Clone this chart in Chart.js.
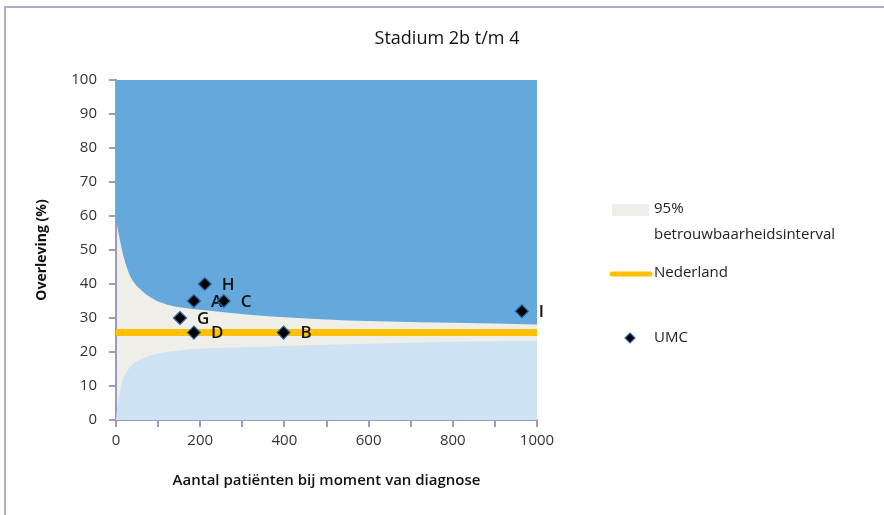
<!DOCTYPE html>
<html>
<head>
<meta charset="utf-8">
<script src="https://cdn.jsdelivr.net/npm/chart.js@4/dist/chart.umd.min.js"></script>
<style>
  body { margin: 0; background: #fff; }
  #wrap { width: 884px; height: 515px; }
</style>
</head>
<body>
<div id="wrap"><canvas id="funnel" width="884" height="515"></canvas></div>
<script>
// funnel data
const patients = [0, 3, 6, 10, 17, 33, 57, 90, 120, 160, 200, 280, 340, 400, 550, 650, 800, 1000];
const upperLimit = [59, 57, 55, 52.5, 48.5, 42.5, 38.5, 35.5, 34, 33, 32.4, 31.4, 30.7, 30.2, 29.3, 29.0, 28.6, 28.1];
const lowerLimit = [0, 3.5, 6, 8.5, 12, 15.5, 17.8, 19.2, 20.0, 20.6, 21.0, 21.3, 21.5, 21.8, 22.3, 22.6, 23.0, 23.3];

const nederlandX = [0, 1000];
const nederlandY = [25.7, 25.7];

const umcNames = ["A", "B", "C", "D", "G", "H", "I"];
const umcPatients = [185, 398, 256, 185, 152, 211, 964];
const umcSurvival = [35, 25.7, 35, 25.7, 30, 40, 32];

const xTicks = [0, 200, 400, 600, 800, 1000];

const axisColor = "#9d9abf";
const darkBlue = "#64a8dc";
const lightBlue = "#cde2f3";
const beige = "#f0eee8";
const orange = "#ffc000";

const toXY = (xs, ys) => xs.map((x, i) => ({x: x, y: ys[i]}));

// beige interval as plot background, frame, title, labels, legend
const extras = {
  id: "extras",
  beforeDraw(chart) {
    const ctx = chart.ctx;
    const a = chart.chartArea;
    ctx.save();
    ctx.fillStyle = beige;
    ctx.fillRect(a.left, a.top, a.right - a.left, a.bottom - a.top);
    ctx.strokeStyle = "#aeabcc";
    ctx.lineWidth = 2;
    ctx.beginPath();
    ctx.moveTo(5, 515);
    ctx.lineTo(5, 7);
    ctx.lineTo(884, 7);
    ctx.stroke();
    ctx.restore();
  },
  beforeDatasetDraw(chart, args) {
    if (args.index !== 4) return;
    const ctx = chart.ctx;
    const meta = chart.getDatasetMeta(4);
    ctx.save();
    ctx.font = "600 17px 'Open Sans'";
    ctx.fillStyle = "#111";
    ctx.textBaseline = "middle";
    meta.data.forEach((pt, i) => {
      ctx.fillText(umcNames[i], pt.x + 17, pt.y + 1);
    });
    ctx.restore();
  },
  afterDraw(chart) {
    const ctx = chart.ctx;
    ctx.save();
    // title
    ctx.font = "500 18px 'Open Sans'";
    ctx.fillStyle = "#111";
    ctx.textAlign = "center";
    ctx.textBaseline = "middle";
    ctx.fillText("Stadium 2b t/m 4", 447, 39);
    // legend
    ctx.textAlign = "left";
    ctx.font = "15px 'Open Sans'";
    ctx.fillStyle = beige;
    ctx.fillRect(612, 204, 37, 12);
    ctx.fillStyle = "#222";
    ctx.fillText("95%", 654, 209);
    ctx.fillText("betrouwbaarheidsinterval", 654, 235);
    ctx.strokeStyle = orange;
    ctx.lineWidth = 5;
    ctx.lineCap = "round";
    ctx.beginPath();
    ctx.moveTo(612, 274);
    ctx.lineTo(650, 274);
    ctx.stroke();
    ctx.fillText("Nederland", 654, 273);
    ctx.fillStyle = "#000";
    ctx.strokeStyle = "#2a6aa8";
    ctx.lineWidth = 1.2;
    ctx.beginPath();
    ctx.moveTo(630, 333);
    ctx.lineTo(635, 338);
    ctx.lineTo(630, 343);
    ctx.lineTo(625, 338);
    ctx.closePath();
    ctx.fill();
    ctx.stroke();
    ctx.fillStyle = "#222";
    ctx.fillText("UMC", 654, 338);
    ctx.restore();
  }
};

const ctx = document.getElementById("funnel").getContext("2d");
const myChart = new Chart(ctx, {
  type: "scatter",
  data: {
    datasets: [
      {
        label: "ondergrens",
        type: "line",
        data: toXY(patients, lowerLimit),
        fill: "origin",
        backgroundColor: lightBlue,
        borderWidth: 0,
        pointRadius: 0,
        cubicInterpolationMode: "monotone",
        order: 3,
      },
      {
        label: "bovengrens",
        type: "line",
        data: toXY(patients, upperLimit),
        fill: "end",
        backgroundColor: darkBlue,
        borderWidth: 0,
        pointRadius: 0,
        cubicInterpolationMode: "monotone",
        order: 2,
      },
      {
        label: "placeholder",
        type: "line",
        data: [],
        order: 5,
      },
      {
        label: "Nederland",
        type: "line",
        data: toXY(nederlandX, nederlandY),
        borderColor: orange,
        borderWidth: 7,
        pointRadius: 0,
        fill: false,
        order: 1,
      },
      {
        label: "UMC",
        data: toXY(umcPatients, umcSurvival),
        pointStyle: "rectRot",
        pointRadius: 6.5,
        pointHoverRadius: 6.5,
        backgroundColor: "#000",
        borderColor: "#2a6aa8",
        borderWidth: 1.2,
        order: 0,
      },
    ],
  },
  options: {
    responsive: false,
    animation: false,
    clip: false,
    layout: { padding: { top: 80, right: 347, left: 0, bottom: 0 } },
    scales: {
      x: {
        type: "linear",
        min: 0,
        max: 1000,
        afterFit: (s) => { s.height = 95; },
        ticks: {
          stepSize: 100,
          autoSkip: false,
          padding: 5,
          color: "#333",
          font: { family: "'Open Sans'", size: 15 },
          callback: (v) => (xTicks.includes(v) ? v : ""),
        },
        grid: { drawOnChartArea: false, drawTicks: true, tickLength: 7, color: axisColor, lineWidth: 2 },
        border: { display: true, color: axisColor, width: 2 },
        title: {
          display: true,
          text: "Aantal patiënten bij moment van diagnose",
          color: "#111",
          font: { family: "'Open Sans'", size: 15, weight: "600" },
          padding: { top: 0, bottom: 25 },
        },
      },
      y: {
        min: 0,
        max: 100,
        afterFit: (s) => { s.width = 116; },
        ticks: {
          stepSize: 10,
          padding: 12,
          color: "#333",
          font: { family: "'Open Sans'", size: 15 },
        },
        grid: { drawOnChartArea: false, drawTicks: true, tickLength: 7, color: axisColor, lineWidth: 2 },
        border: { display: true, color: axisColor, width: 2 },
        title: {
          display: true,
          text: "Overleving (%)",
          color: "#111",
          font: { family: "'Open Sans'", size: 14, weight: "bold" },
          padding: { top: 34, bottom: 0 },
        },
      },
    },
    plugins: {
      legend: { display: false },
      tooltip: { enabled: false },
    },
  },
  plugins: [extras],
});
</script>
</body>
</html>
